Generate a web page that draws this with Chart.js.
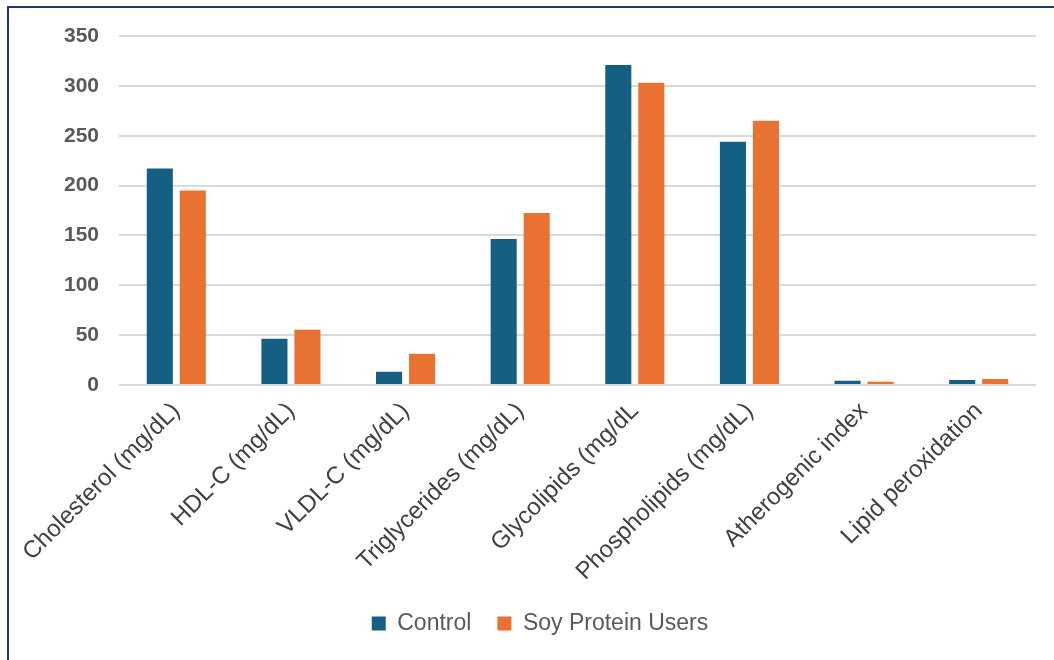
<!DOCTYPE html>
<html>
<head>
<meta charset="utf-8">
<script src="https://cdn.jsdelivr.net/npm/chart.js@4"></script>
<style>
  html, body { margin: 0; padding: 0; background: #fff; }
  #wrap { position: relative; width: 1054px; height: 660px; overflow: hidden; }
  #frame { position: absolute; left: 7px; top: 6px; right: -4px; bottom: -4px;
           border-left: 2px solid #1f3864; border-top: 2px solid #1f3864; }
  canvas { position: absolute; left: 0; top: 0; }
</style>
</head>
<body>
<div id="wrap">
  <div id="frame"></div>
  <canvas id="c" width="1054" height="660"></canvas>
</div>
<script>
const categories = [
  'Cholesterol (mg/dL)', 'HDL-C (mg/dL)', 'VLDL-C (mg/dL)', 'Triglycerides (mg/dL)',
  'Glycolipids (mg/dL', 'Phospholipids (mg/dL)', 'Atherogenic index', 'Lipid peroxidation'
];
const controlValues = [217, 46.5, 13.3, 146.5, 321, 244, 4.3, 5];
const soyValues = [195, 55.5, 31.3, 172.5, 303, 265, 3.3, 6];
const yTicks = [0, 50, 100, 150, 200, 250, 300, 350];

const fontFamily = '"Liberation Sans", Arial, sans-serif';

new Chart(document.getElementById('c'), {
  type: 'bar',
  data: {
    labels: categories,
    datasets: [
      { label: 'Control', data: controlValues, backgroundColor: '#156082',
        barPercentage: 0.79, categoryPercentage: 0.576 },
      { label: 'Soy Protein Users', data: soyValues, backgroundColor: '#e97132',
        barPercentage: 0.79, categoryPercentage: 0.576 }
    ]
  },
  options: {
    responsive: false,
    animation: false,
    layout: { padding: { left: 44, right: 18, top: 36, bottom: 15 } },
    plugins: {
      tooltip: { enabled: false },
      legend: {
        position: 'bottom',
        labels: {
          boxWidth: 14, boxHeight: 14, padding: 26,
          color: '#595959',
          font: { family: fontFamily, size: 23 }
        }
      }
    },
    scales: {
      x: {
        afterFit: (axis) => { axis.height = 201; },
        grid: { display: false },
        border: { display: false },
        ticks: {
          maxRotation: 45, minRotation: 45, autoSkip: false,
          padding: 4,
          color: '#404040',
          font: { family: fontFamily, size: 24 }
        }
      },
      y: {
        min: 0, max: 350,
        afterBuildTicks: (axis) => { axis.ticks = yTicks.map(v => ({ value: v })); },
        afterFit: (axis) => { axis.width = 75; },
        grid: { color: '#d9d9d9', lineWidth: 2, drawTicks: false },
        border: { display: false },
        ticks: {
          padding: 20,
          color: '#595959',
          font: { family: fontFamily, size: 21, weight: 'bold' }
        }
      }
    }
  }
});
</script>
</body>
</html>
